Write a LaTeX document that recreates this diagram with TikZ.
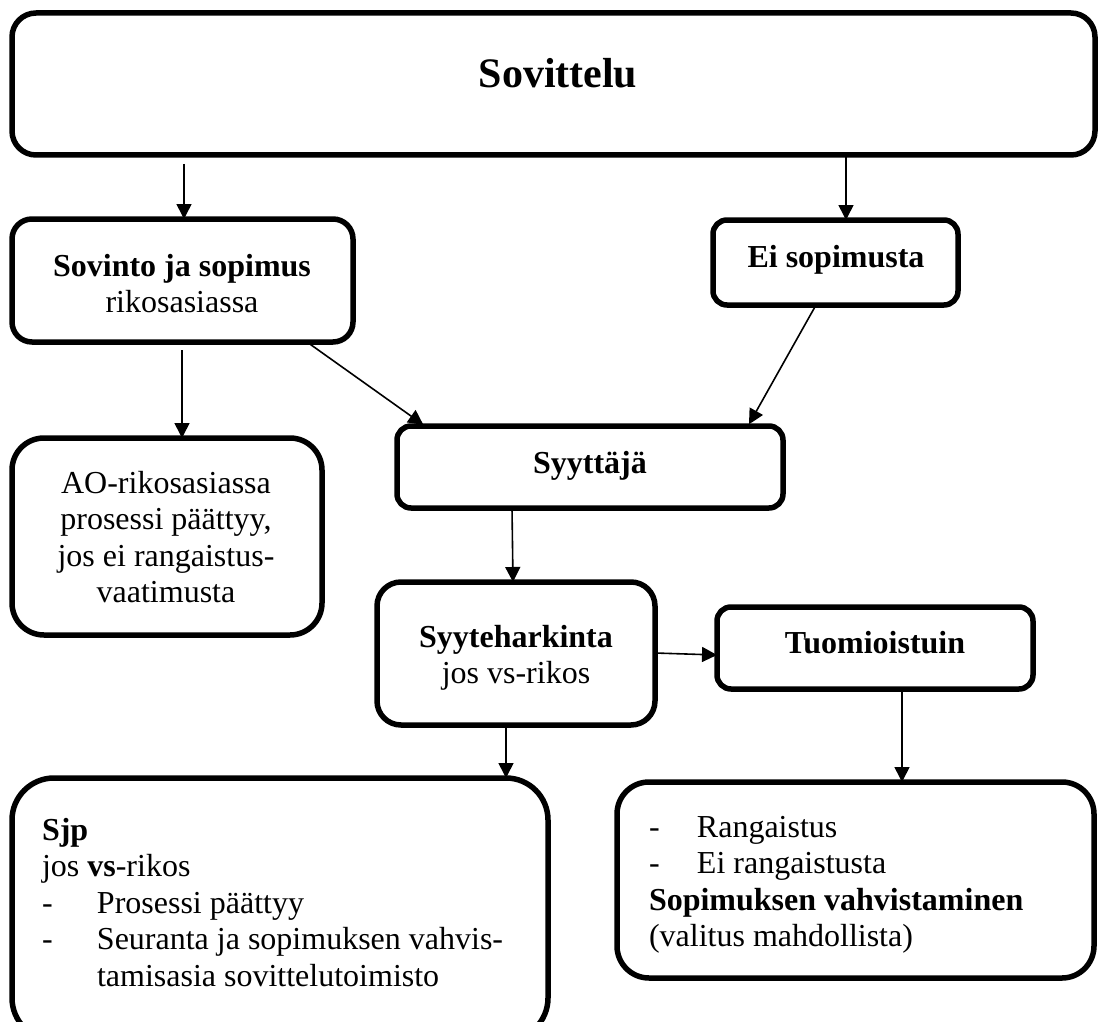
\documentclass[tikz,border=0pt]{standalone}
\usepackage{fontspec}
\setmainfont{Liberation Serif}
\usetikzlibrary{arrows.meta}
\begin{document}
\begin{tikzpicture}[x=1pt,y=-1pt,
  box/.style={draw, line width=5.5pt, rounded corners=#1, inner sep=0pt, outer sep=0pt},
  conn/.style={line width=1.6pt, -{Triangle[length=15pt,width=15pt]}},
  txt/.style={font=\fontsize{32}{36.5}\selectfont, inner sep=0pt, outer sep=0pt},
  bold/.style={font=\fontsize{32}{36.5}\selectfont\bfseries, inner sep=0pt, outer sep=0pt}]
\useasboundingbox (0,0) rectangle (1098,1022);
% boxes
\node[box=24pt, minimum width=1083pt, minimum height=142pt] (top) at (553.5,84) {};
\node[box=20pt, minimum width=341pt, minimum height=123pt] (sov) at (182.5,280.5) {};
\node[box=14pt, minimum width=245pt, minimum height=85pt] (ei) at (835.5,262.5) {};
\node[box=32pt, minimum width=310pt, minimum height=197pt] (ao) at (167,536.5) {};
\node[box=14pt, minimum width=386pt, minimum height=82pt] (syy) at (590,467) {};
\node[box=24pt, minimum width=278pt, minimum height=143pt] (har) at (516,653.5) {};
\node[box=14pt, minimum width=316pt, minimum height=82pt] (tuo) at (875,648) {};
\node[box=42pt, minimum width=536pt, minimum height=262pt] (sjp) at (280,909) {};
\node[box=32pt, minimum width=477pt, minimum height=196pt] (res) at (855.5,880) {};
% texts (multi-line nodes: base = last line)
\node[bold, font=\fontsize{42}{48}\selectfont\bfseries, anchor=base] (ttop) at (558,88) {Sovittelu};
\node[txt, anchor=base, align=center] (tsov) at (182,312.5) {\textbf{Sovinto ja sopimus}\\rikosasiassa};
\node[bold, anchor=base] (tei) at (836,267) {Ei sopimusta};
\node[txt, anchor=base, align=center] (tao) at (166,602.5) {AO-rikosasiassa\\prosessi päättyy,\\jos ei rangaistus-\\vaatimusta};
\node[bold, anchor=base] (tsyy) at (590,473) {Syyttäjä};
\node[txt, anchor=base, align=center] (thar) at (516,683.5) {\textbf{Syyteharkinta}\\jos vs-rikos};
\node[bold, anchor=base] (ttuo) at (875,653) {Tuomioistuin};
\node[txt, anchor=base west, align=left] (tsjp) at (42,986) {\textbf{Sjp}\\jos \textbf{vs}-rikos\\\makebox[55pt][l]{-}Prosessi päättyy\\\makebox[55pt][l]{-}Seuranta ja sopimuksen vahvis-\\\hspace*{55pt}tamisasia sovittelutoimisto};
\node[txt, anchor=base west, align=left] (tres) at (649,946.5) {\makebox[48pt][l]{-}Rangaistus\\\makebox[48pt][l]{-}Ei rangaistusta\\\textbf{Sopimuksen vahvistaminen}\\(valitus mahdollista)};
% connectors
\draw[conn, shorten <=9pt] (top.south -| 184,0) -- (sov.north -| 184,0);
\draw[conn, shorten <=2pt] (top.south -| 846,0) -- (ei.north -| 846,0);
\draw[conn, shorten <=8pt] (sov.south -| 182,0) -- (ao.north -| 182,0);
\draw[conn, shorten <=4pt, shorten >=2pt] (sov.south -| 307,0) -- (syy.north -| 425,0);
\draw[conn, shorten <=2pt, shorten >=2pt] (ei.south -| 816,0) -- (syy.north -| 748,0);
\draw[conn, shorten <=2pt] (syy.south -| 512,0) -- (har.north -| 513,0);
\draw[conn] (har.east |- 0,653) -- (tuo.west |- 0,655);
\draw[conn] (har.south -| 506,0) -- (sjp.north -| 506,0);
\draw[conn, shorten <=3pt] (tuo.south -| 902,0) -- (res.north -| 902,0);
\end{tikzpicture}
\end{document}
